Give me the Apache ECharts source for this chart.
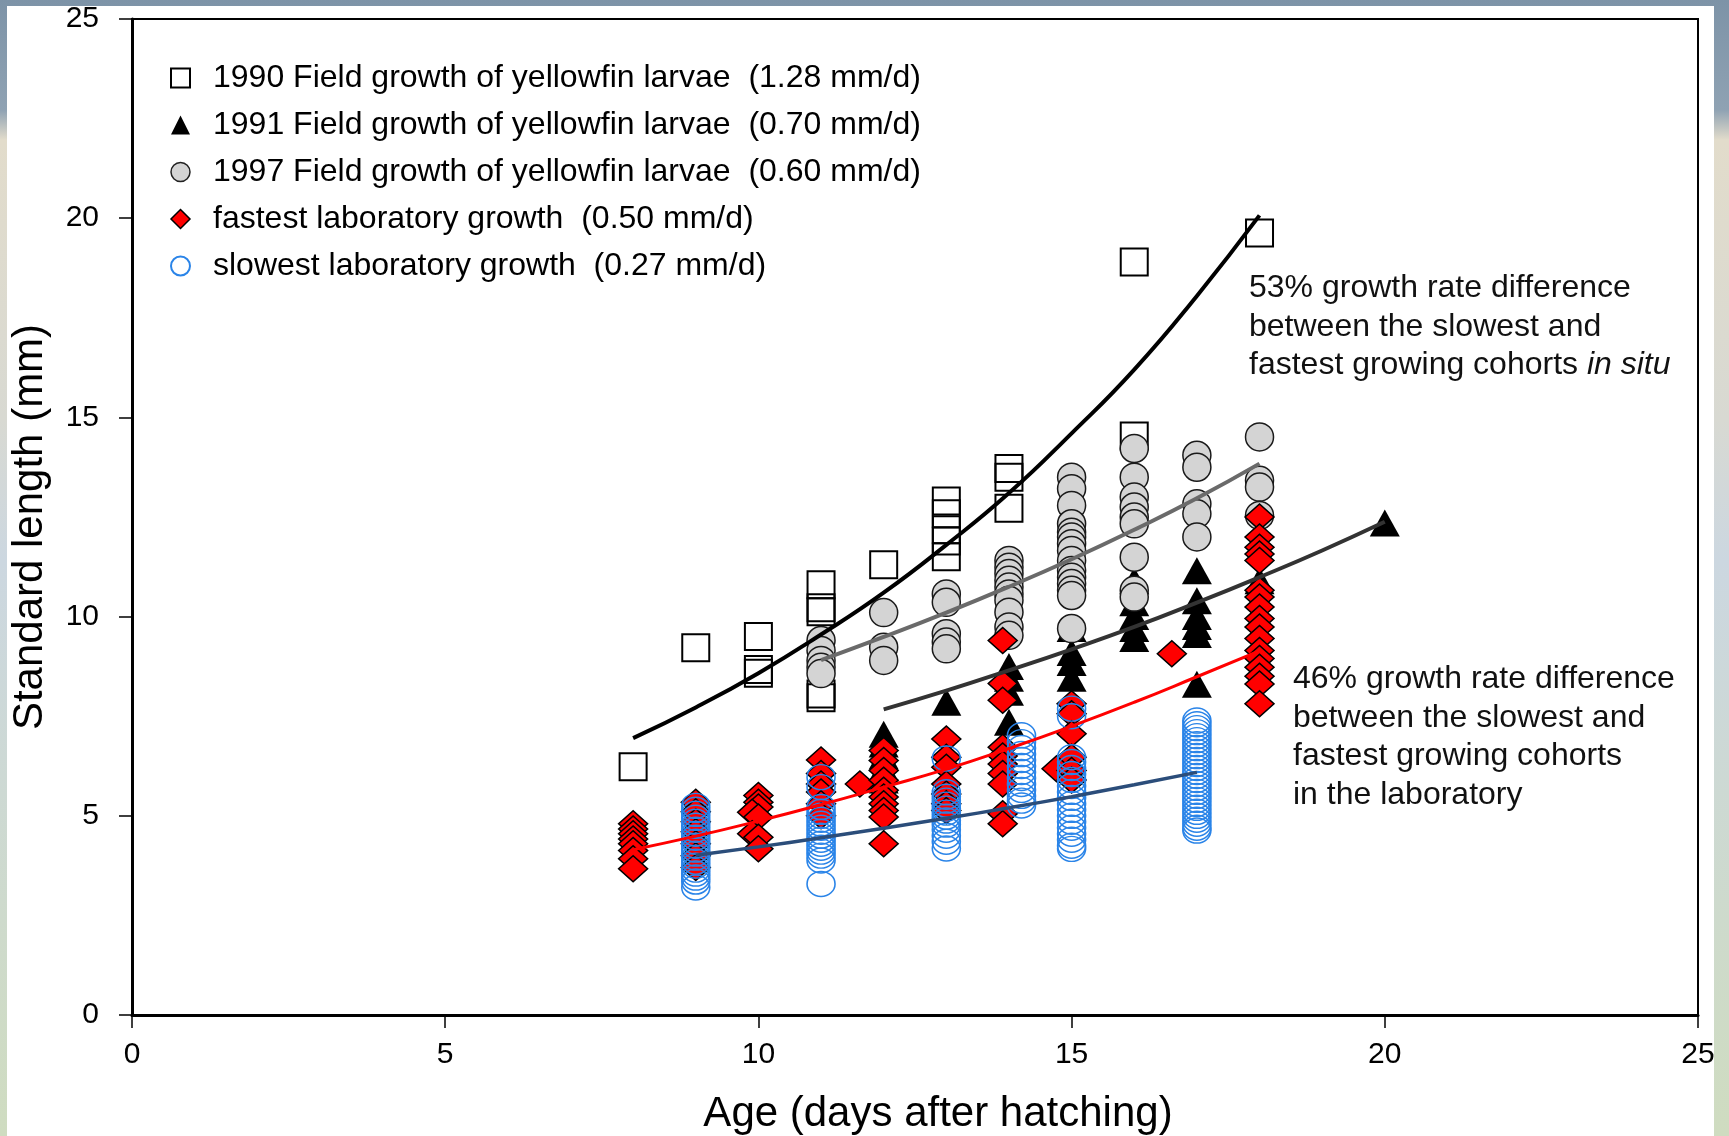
<!DOCTYPE html>
<html>
<head>
<meta charset="utf-8">
<script src="https://cdn.jsdelivr.net/npm/echarts@6/dist/echarts.min.js"></script>
<style>
  html, body { margin: 0; padding: 0; }
  body { width: 1729px; height: 1136px; overflow: hidden; position: relative;
    background: linear-gradient(to bottom, #7d93a7 0px, #8fa2b3 110px, #e2dccb 140px, #d8d9d2 420px, #ccd7e0 560px, #cfdcc0 1136px); }
  #sheet { position: absolute; left: 7px; top: 6px; width: 1707px; height: 1130px; background: #fff; }
  #c1 { position: absolute; left: 0; top: 0; width: 1729px; height: 1136px; }
</style>
</head>
<body>
<div id="sheet"></div>
<div id="c1"></div>
<script>
// legend names
var names = [
  '1990 Field growth of yellowfin larvae  (1.28 mm/d)',
  '1991 Field growth of yellowfin larvae  (0.70 mm/d)',
  '1997 Field growth of yellowfin larvae  (0.60 mm/d)',
  'fastest laboratory growth  (0.50 mm/d)',
  'slowest laboratory growth  (0.27 mm/d)'
]
var ticks = [0, 5, 10, 15, 20, 25]

// 1990 field, open squares [age, length]
var sq1990 = [
  [8, 6.23], [9, 9.22], [10, 9.5], [10, 8.67], [10, 8.58],
  [11, 10.8], [11, 10.22], [11, 10.12], [11, 8.06], [11, 7.96],
  [12, 11.3],
  [13, 12.9], [13, 12.58], [13, 12.18], [13, 11.9], [13, 11.5],
  [14, 13.72], [14, 13.5], [14, 12.72],
  [16, 18.9], [16, 14.53],
  [18, 19.63]
]
// 1991 field, black triangles
var tri1991 = [
  [12, 7.05], [12, 6.8], [12, 6.5], [12, 6.2], [12, 5.9],
  [13, 7.85],
  [14, 8.75], [14, 8.45], [14, 8.1], [14, 7.35],
  [15, 9.7], [15, 9.1], [15, 8.85], [15, 8.45],
  [16, 10.9], [16, 10.35], [16, 10.0], [16, 9.7], [16, 9.45],
  [17, 11.15], [17, 10.4], [17, 10.0], [17, 9.75], [17, 9.55], [17, 8.3],
  [18, 10.9],
  [20, 12.35]
]
// 1997 field, grey circles
var circ1997 = [
  [11, 9.4], [11, 9.15], [11, 8.9], [11, 8.73], [11, 8.57],
  [12, 10.1], [12, 9.23], [12, 8.9],
  [13, 10.57], [13, 10.36], [13, 9.57], [13, 9.36], [13, 9.19],
  [14, 11.41], [14, 11.24], [14, 11.08], [14, 10.91], [14, 10.74], [14, 10.57], [14, 10.41], [14, 10.11], [14, 9.74], [14, 9.53],
  [15, 13.5], [15, 13.21], [15, 12.79], [15, 12.33], [15, 12.12], [15, 12.0], [15, 11.83], [15, 11.66], [15, 11.41],
  [15, 11.16], [15, 10.99], [15, 10.83], [15, 10.66], [15, 10.53], [15, 9.7],
  [16, 14.22], [16, 13.5], [16, 13.0], [16, 12.75], [16, 12.5], [16, 12.33], [16, 11.49], [16, 10.66], [16, 10.49],
  [17, 14.05], [17, 13.75], [17, 12.83], [17, 12.58], [17, 12.0],
  [18, 14.51], [18, 13.42], [18, 13.25], [18, 12.54]
]
// fastest lab, red diamonds
var labFast = [
  [8, 4.8], [8, 4.67], [8, 4.55], [8, 4.42], [8, 4.3], [8, 4.13], [8, 3.92], [8, 3.67],
  [9, 5.34], [9, 5.1], [9, 4.85], [9, 4.6], [9, 4.3], [9, 4.0], [9, 3.7],
  [10, 5.51], [10, 5.34], [10, 5.22], [9.9, 5.09], [10, 4.97], [9.9, 4.55], [10, 4.46], [10, 4.17],
  [11, 6.4], [11, 6.06], [11, 5.8], [11, 5.6], [11, 5.3], [11, 5.0],
  [11.62, 5.8],
  [12, 6.64], [12, 6.39], [12, 6.14], [12, 5.89], [12, 5.64], [12, 5.47], [12, 5.3], [12, 5.13], [12, 4.97], [12, 4.3],
  [13, 6.93], [13, 6.47], [13, 6.22], [13, 5.8], [13, 5.55], [13, 5.3], [13, 5.13],
  [13.9, 9.4], [13.9, 8.32], [13.9, 7.9], [13.9, 6.72], [13.9, 6.5], [13.9, 6.3], [13.9, 6.06], [13.9, 5.8], [13.9, 5.05], [13.9, 4.8],
  [15, 7.81], [15, 7.56], [15, 7.06], [15, 6.47], [14.76, 6.18], [15, 6.14], [15, 5.9],
  [16.6, 9.07],
  [18, 12.5], [18, 12.0], [18, 11.74], [18, 11.57], [18, 11.41], [18, 10.66], [18, 10.49], [18, 10.24], [18, 9.95],
  [18, 9.74], [18, 9.45], [18, 9.15], [18, 8.95], [18, 8.73], [18, 8.5], [18, 8.31], [18, 7.81]
]
// slowest lab, open blue circles
var labSlow = [
  [9, 5.25], [9, 5.15], [9, 5.05], [9, 4.95], [9, 4.85], [9, 4.75], [9, 4.65], [9, 4.55], [9, 4.45], [9, 4.35], [9, 4.25],
  [9, 4.15], [9, 4.05], [9, 3.95], [9, 3.85], [9, 3.75], [9, 3.65], [9, 3.55], [9, 3.45], [9, 3.35], [9, 3.2],
  [11, 5.97], [11, 5.72], [11, 5.22], [11, 5.1], [11, 5.0], [11, 4.9], [11, 4.8], [11, 4.7], [11, 4.6], [11, 4.5],
  [11, 4.4], [11, 4.3], [11, 4.2], [11, 4.1], [11, 4.0], [11, 3.88], [11, 3.29],
  [13, 6.44], [13, 5.59], [13, 5.48], [13, 5.38], [13, 5.28], [13, 5.18], [13, 5.08], [13, 4.98], [13, 4.88], [13, 4.78],
  [13, 4.65], [13, 4.5], [13, 4.35], [13, 4.18],
  [14.2, 7.02], [14.2, 6.85], [14.2, 6.7], [14.2, 6.55], [14.2, 6.4], [14.2, 6.25], [14.2, 6.1], [14.2, 5.95], [14.2, 5.8],
  [14.2, 5.65], [14.2, 5.5], [14.2, 5.38], [14.2, 5.26],
  [15, 7.69], [15, 7.5], [15, 6.47], [15, 6.35], [15, 6.2], [15, 6.05], [15, 5.9], [15, 5.75], [15, 5.6], [15, 5.45], [15, 5.3],
  [15, 5.15], [15, 5.0], [15, 4.85], [15, 4.7], [15, 4.55], [15, 4.4], [15, 4.25], [15, 4.17],
  [17, 7.39], [17, 7.3], [17, 7.2], [17, 7.1], [17, 7.0], [17, 6.9], [17, 6.8], [17, 6.7], [17, 6.6], [17, 6.5], [17, 6.4],
  [17, 6.3], [17, 6.2], [17, 6.1], [17, 6.0], [17, 5.9], [17, 5.8], [17, 5.7], [17, 5.6], [17, 5.5], [17, 5.4], [17, 5.3],
  [17, 5.2], [17, 5.1], [17, 5.0], [17, 4.9], [17, 4.8], [17, 4.7], [17, 4.63]
]

// fitted growth curves
var fit1990 = [[8, 6.95], [9, 7.72], [10, 8.58], [11, 9.55], [12, 10.6], [13, 11.8], [14, 13.1], [15, 14.6], [16, 16.2], [17, 18.05], [18, 20.07]]
var fit1991 = [[12, 7.67], [13, 8.14], [14, 8.65], [15, 9.18], [16, 9.74], [17, 10.35], [18, 10.99], [19, 11.66], [20, 12.38]]
var fit1997 = [[11, 8.91], [12, 9.49], [13, 10.1], [14, 10.75], [15, 11.44], [16, 12.18], [17, 12.97], [18, 13.84]]
var fitFast = [[8, 4.15], [9, 4.49], [10, 4.87], [11, 5.28], [12, 5.72], [13, 6.17], [14, 6.69], [15, 7.25], [16, 7.85], [17, 8.49], [18, 9.14]]
var fitSlow = [[9, 4.01], [10, 4.22], [11, 4.45], [12, 4.69], [13, 4.94], [14, 5.2], [15, 5.48], [16, 5.78], [17, 6.09]]

var FONT = '"Liberation Sans", Arial, sans-serif'

function fitLine(data, color, width) {
  return {
    type: 'line', data: data, smooth: true, showSymbol: false, silent: true, z: 5,
    lineStyle: { color: color, width: width }
  }
}

var myChart = echarts.init(document.getElementById('c1'))
var option = {
  backgroundColor: 'transparent',
  animation: false,
  textStyle: { fontFamily: FONT, color: '#000' },
  grid: { left: 132, right: 31, top: 19, bottom: 121, show: true, borderColor: '#000', borderWidth: 2,
    containLabel: false, outerBoundsMode: 'none' },
  legend: {
    orient: 'vertical', left: 165, top: 57, itemGap: 15,
    itemWidth: 19, itemHeight: 19,
    textStyle: { fontSize: 32, fontFamily: FONT, color: '#000', padding: [0, 0, 0, 18] },
    data: [
      { name: names[0], icon: 'rect', itemStyle: { color: '#fff', borderColor: '#000', borderWidth: 2 } },
      { name: names[1], icon: 'triangle', itemStyle: { color: '#000', borderWidth: 0 } },
      { name: names[2], icon: 'circle', itemStyle: { color: '#d4d4d4', borderColor: '#222', borderWidth: 1.5 } },
      { name: names[3], icon: 'diamond', itemStyle: { color: '#ff0000', borderColor: '#000', borderWidth: 1.5 } },
      { name: names[4], icon: 'circle', itemStyle: { color: '#fff', borderColor: '#2a84e8', borderWidth: 2 } }
    ]
  },
  xAxis: {
    type: 'value', min: ticks[0], max: ticks[ticks.length - 1], interval: 5,
    name: 'Age (days after hatching)', nameLocation: 'middle', nameGap: 78,
    nameTextStyle: { fontSize: 42, color: '#000', fontFamily: FONT, padding: [0, 0, 0, 46] },
    splitLine: { show: false },
    axisLine: { lineStyle: { color: '#000', width: 3 } },
    axisTick: { length: 13, lineStyle: { color: '#000', width: 1.5 } },
    axisLabel: { fontSize: 30, color: '#000', margin: 25, fontFamily: FONT }
  },
  yAxis: {
    type: 'value', min: ticks[0], max: ticks[ticks.length - 1], interval: 5,
    name: 'Standard length (mm)', nameLocation: 'middle', nameGap: 81,
    nameTextStyle: { fontSize: 42, color: '#000', fontFamily: FONT, padding: [0, 20, 0, 0] },
    splitLine: { show: false },
    axisLine: { lineStyle: { color: '#000', width: 3 } },
    axisTick: { length: 13, lineStyle: { color: '#000', width: 1.5 } },
    axisLabel: { fontSize: 30, color: '#000', margin: 33, fontFamily: FONT }
  },
  series: [
    { name: names[0], type: 'scatter', data: sq1990, symbol: 'rect', symbolSize: 27, z: 1,
      itemStyle: { color: 'rgba(255,255,255,0)', borderColor: '#000', borderWidth: 2, opacity: 1 } },
    { name: names[1], type: 'scatter', data: tri1991, symbol: 'triangle', symbolSize: [30, 27], z: 2,
      itemStyle: { color: '#000', opacity: 1 } },
    { name: names[2], type: 'scatter', data: circ1997, symbol: 'circle', symbolSize: 28, z: 3,
      itemStyle: { color: '#d4d4d4', borderColor: '#1a1a1a', borderWidth: 1.5, opacity: 1 } },
    { name: names[3], type: 'scatter', data: labFast, symbol: 'diamond', symbolSize: [29, 26], z: 4,
      itemStyle: { color: '#ff0000', borderColor: '#000', borderWidth: 1.5, opacity: 1 } },
    { name: names[4], type: 'scatter', data: labSlow, symbol: 'circle', symbolSize: [28, 25], z: 4,
      itemStyle: { color: 'rgba(255,255,255,0)', borderColor: '#2a84e8', borderWidth: 1.5, opacity: 1 } },
    fitLine(fit1990, '#000', 4),
    fitLine(fit1997, '#6a6a6a', 4),
    fitLine(fit1991, '#333', 4),
    fitLine(fitFast, '#ff0000', 3),
    fitLine(fitSlow, '#2b4d7a', 3.5)
  ],
  graphic: [
    { type: 'text', left: 1249, top: 269, z: 10,
      style: { text: '53% growth rate difference\nbetween the slowest and\nfastest growing cohorts {i|in situ}',
        font: '32px ' + FONT, fill: '#111', lineHeight: 38.6,
        rich: { i: { fontStyle: 'italic', fontSize: 32, fontFamily: FONT, fill: '#111', lineHeight: 38.6 } } } },
    { type: 'text', left: 1293, top: 660, z: 10,
      style: { text: '46% growth rate difference\nbetween the slowest and\nfastest growing cohorts\nin the laboratory',
        font: '32px ' + FONT, fill: '#111', lineHeight: 38.6 } }
  ]
}
myChart.setOption(option)
</script>
</body>
</html>
